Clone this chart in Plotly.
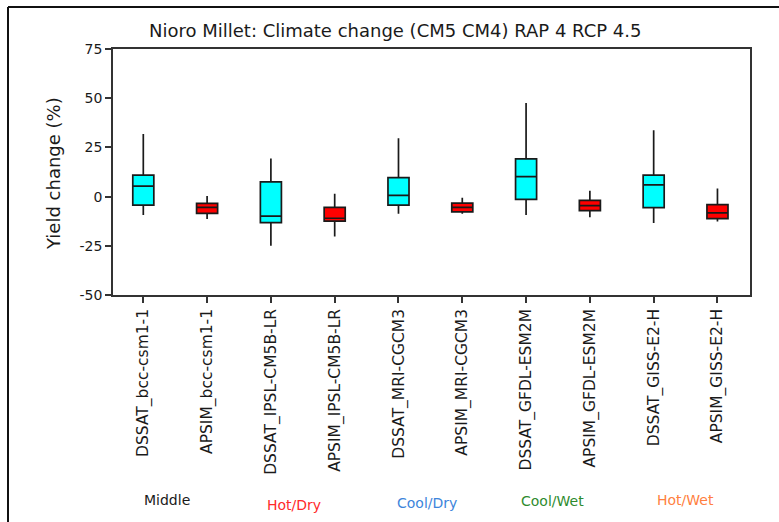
import plotly.graph_objects as go

# Crop-model / GCM combinations, in plotting order
categories = [
    "DSSAT_bcc-csm1-1", "APSIM_bcc-csm1-1",
    "DSSAT_IPSL-CM5B-LR", "APSIM_IPSL-CM5B-LR",
    "DSSAT_MRI-CGCM3", "APSIM_MRI-CGCM3",
    "DSSAT_GFDL-ESM2M", "APSIM_GFDL-ESM2M",
    "DSSAT_GISS-E2-H", "APSIM_GISS-E2-H",
]

# Yield change (%) box statistics, one value per category
lower_whisker = [-9.4, -11.4, -25.0, -20.3, -8.7, -8.7, -9.4, -10.5, -13.4, -12.7]
q1            = [-4.3, -8.5, -13.2, -12.5, -4.3, -7.8, -1.4, -7.1, -5.6, -11.2]
median        = [5.3, -5.5, -9.9, -11.0, 0.6, -5.5, 10.2, -4.6, 6.0, -8.3]
q3            = [10.9, -3.4, 7.5, -5.5, 9.6, -3.3, 19.2, -1.9, 10.9, -4.1]
upper_whisker = [31.8, 0.3, 19.3, 1.5, 29.6, -0.6, 47.5, 3.0, 33.7, 4.1]

# Climate scenario groups shown under the axis
group_labels = ["Middle", "Hot/Dry", "Cool/Dry", "Cool/Wet", "Hot/Wet"]
group_colors = ["#1a1a1a", "#ff2a2a", "#3d85db", "#2e8b2e", "#ff7f40"]

y_ticks = [-50, -25, 0, 25, 50, 75]
y_tick_text = ["-50", "-25", "0", "25", "50", "75"]

W, H = 779, 522
L, R, T, B = 113, 29, 49, 227

fig = go.Figure()

for model, fill in (("DSSAT", "#00ffff"), ("APSIM", "#ff0000")):
    idx = [i for i, c in enumerate(categories) if c.startswith(model)]
    fig.add_trace(go.Box(
        x=[categories[i] for i in idx],
        q1=[q1[i] for i in idx],
        median=[median[i] for i in idx],
        q3=[q3[i] for i in idx],
        lowerfence=[lower_whisker[i] for i in idx],
        upperfence=[upper_whisker[i] for i in idx],
        fillcolor=fill,
        line=dict(color="#1a1a1a", width=1.7),
        whiskerwidth=0,
        width=0.33,
        boxpoints=False,
        showlegend=False,
        hoverinfo="skip",
    ))

plot_w = W - L - R
plot_h = H - T - B


def px_to_paper(px, py):
    return (px - L) / plot_w, (H - B - py) / plot_h


annotations = []

# Group labels beneath the rotated category names
group_pos = [(167, 500), (294, 505), (427, 503), (552, 501), (685, 500)]
for text, color, (px, py) in zip(group_labels, group_colors, group_pos):
    ax, ay = px_to_paper(px, py)
    annotations.append(dict(
        text=text, x=ax, y=ay, xref="paper", yref="paper",
        xanchor="center", yanchor="middle", showarrow=False,
        font=dict(family="DejaVu Sans", size=14, color=color),
    ))

# Y axis title
ax, ay = px_to_paper(53, 173)
annotations.append(dict(
    text="Yield change (%)", x=ax, y=ay, xref="paper", yref="paper",
    xanchor="center", yanchor="middle", textangle=-90, showarrow=False,
    font=dict(family="DejaVu Sans", size=18, color="#1a1a1a"),
))

# Chart title
ax, ay = px_to_paper(395, 30)
annotations.append(dict(
    text="Nioro Millet: Climate change (CM5 CM4) RAP 4 RCP 4.5",
    x=ax, y=ay, xref="paper", yref="paper",
    xanchor="center", yanchor="middle", showarrow=False,
    font=dict(family="DejaVu Sans", size=18, color="#1a1a1a"),
))

# Outer frame: left and top edges
x0, y0 = px_to_paper(8, 7)
x1, _ = px_to_paper(W, 7)
_, y1 = px_to_paper(8, H)
shapes = [
    dict(type="line", xref="paper", yref="paper", x0=x0, x1=x0, y0=y0, y1=y1,
         line=dict(color="#111111", width=2)),
    dict(type="line", xref="paper", yref="paper", x0=x0, x1=x1, y0=y0, y1=y0,
         line=dict(color="#111111", width=2)),
]

axis_line = dict(showline=True, linecolor="#333333", linewidth=1.5, mirror=True,
                 showgrid=False, zeroline=False, ticks="outside", ticklen=6,
                 tickcolor="#333333", tickwidth=1.5)

fig.update_layout(
    width=W, height=H,
    margin=dict(l=L, r=R, t=T, b=B, pad=0),
    paper_bgcolor="white", plot_bgcolor="white",
    annotations=annotations, shapes=shapes,
    xaxis=dict(
        type="category", categoryorder="array", categoryarray=categories,
        range=[-0.475, 9.51], tickangle=-90,
        tickfont=dict(family="DejaVu Sans", size=15.5, color="#1a1a1a"),
        **axis_line,
    ),
    yaxis=dict(
        range=[-50, 75], tickvals=y_ticks, ticktext=y_tick_text,
        tickfont=dict(family="DejaVu Sans", size=14, color="#1a1a1a"),
        **axis_line,
    ),
)

fig.write_html("out.html")
